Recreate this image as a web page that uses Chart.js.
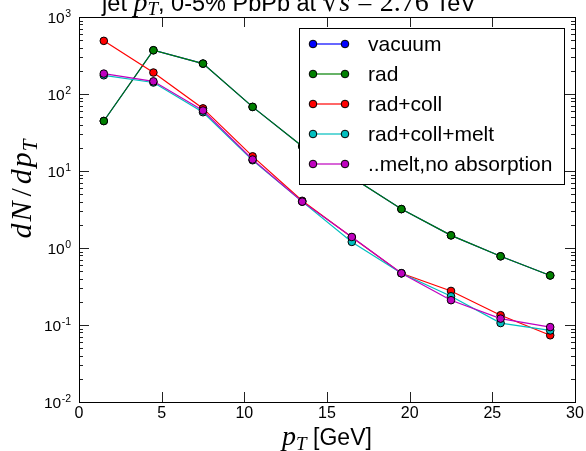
<!DOCTYPE html>
<html><head><meta charset="utf-8">
<script src="https://cdn.jsdelivr.net/npm/chart.js@4/dist/chart.umd.min.js"></script>
<style>html,body{margin:0;padding:0;background:#fff;overflow:hidden}</style>
</head><body>
<canvas id="c" width="586" height="451" style="display:block;width:586px;height:451px"></canvas>
<script>
// ---- data ----
const pT = [1.5, 4.5, 7.5, 10.5, 13.5, 16.5, 19.5, 22.5, 25.5, 28.5];
const vacuum = [44.6, 370, 248, 68, 21, 8.3, 3.2, 1.46, 0.78, 0.44];
const rad = [44.6, 370, 248, 68, 21, 8.3, 3.2, 1.46, 0.78, 0.44];
const radColl = [490, 190, 65, 15.5, 4.1, 1.38, 0.47, 0.277, 0.134, 0.0735];
const radCollMelt = [175, 141, 58, 13.8, 4.0, 1.2, 0.47, 0.236, 0.106, 0.085];
const meltNoAbs = [184, 146, 61, 14.1, 4.0, 1.39, 0.47, 0.21, 0.121, 0.094];
const seriesNames = ['vacuum', 'rad', 'rad+coll', 'rad+coll+melt', '..melt,no absorption'];
const seriesColors = ['#0000ff', '#008000', '#ff0000', '#00bfbf', '#bf00bf'];
const seriesValues = [vacuum, rad, radColl, radCollMelt, meltNoAbs];
const xTicks = [0, 5, 10, 15, 20, 25, 30];
const yDecades = [-2, -1, 0, 1, 2, 3];
const xRange = [0, 30];
const yRange = [0.01, 1000];

const SANS = 'Liberation Sans';
const SERIF = 'Liberation Serif';

function drawSegments(ctx, segs, x, y, align) {
  let total = 0;
  segs.forEach(s => { ctx.font = s.f; s.w = ctx.measureText(s.t).width + (s.gap || 0); total += s.w; });
  let cx = align === 'center' ? x - total / 2 : x;
  ctx.textBaseline = 'alphabetic';
  ctx.textAlign = 'left';
  segs.forEach(s => { ctx.font = s.f; ctx.fillText(s.t, cx, y + (s.dy || 0)); cx += s.w; });
}

const decorPlugin = {
  id: 'decor',
  afterDraw(chart) {
    const ctx = chart.ctx;
    const a = chart.chartArea;
    const xs = chart.scales.x, ys = chart.scales.y;
    ctx.save();
    // ticks (inside, all sides)
    ctx.strokeStyle = '#222';
    ctx.lineWidth = 1;
    ctx.beginPath();
    xTicks.forEach(v => {
      const px = Math.round(xs.getPixelForValue(v)) + 0.5;
      ctx.moveTo(px, a.bottom); ctx.lineTo(px, a.bottom - 10);
      ctx.moveTo(px, a.top); ctx.lineTo(px, a.top + 10);
    });
    yDecades.forEach(e => {
      const py = Math.round(ys.getPixelForValue(Math.pow(10, e))) + 0.5;
      ctx.moveTo(a.left, py); ctx.lineTo(a.left + 10, py);
      ctx.moveTo(a.right, py); ctx.lineTo(a.right - 10, py);
      if (e < yDecades[yDecades.length - 1]) {
        for (let m = 2; m <= 9; m++) {
          const pm = Math.round(ys.getPixelForValue(m * Math.pow(10, e))) + 0.5;
          ctx.moveTo(a.left, pm); ctx.lineTo(a.left + 4, pm);
          ctx.moveTo(a.right, pm); ctx.lineTo(a.right - 4, pm);
        }
      }
    });
    ctx.stroke();
    // frame
    ctx.strokeStyle = '#000';
    ctx.strokeRect(Math.round(a.left) + 0.5, Math.round(a.top) + 0.5, Math.round(a.right - a.left), Math.round(a.bottom - a.top));
    // y tick labels 10^e
    ctx.fillStyle = '#000';
    yDecades.forEach(e => {
      const py = ys.getPixelForValue(Math.pow(10, e));
      const ex = (e < 0 ? '-' : '') + Math.abs(e);
      ctx.font = '10.5px ' + SANS;
      const ew = ctx.measureText(ex).width;
      ctx.font = '15.5px ' + SANS;
      const bw = ctx.measureText('10').width;
      const right = a.left - 8;
      ctx.textAlign = 'left'; ctx.textBaseline = 'alphabetic';
      ctx.fillText('10', right - ew - bw - 0.5, py + 5.5);
      ctx.font = '10.5px ' + SANS;
      ctx.fillText(ex, right - ew, py - 0.5);
    });
    // title (cropped at top like reference)
    drawSegments(ctx, [
      { t: 'jet ', f: '23.5px ' + SANS },
      { t: 'p', f: 'italic 28px ' + SERIF },
      { t: 'T', f: 'italic 19px ' + SERIF, dy: 4 },
      { t: ', 0-5% PbPb at ', f: '23.5px ' + SANS },
      { t: '\u221A', f: '26px DejaVu Serif' },
      { t: 's', f: 'italic 28px ' + SERIF },
      { t: ' = 2.76', f: '28px ' + SERIF },
      { t: ' TeV', f: '23.5px ' + SANS }
    ], 289, 11, 'center');
    // x axis title
    drawSegments(ctx, [
      { t: 'p', f: 'italic 28px ' + SERIF },
      { t: 'T', f: 'italic 19px ' + SERIF, dy: 5 },
      { t: ' [GeV]', f: '23px ' + SANS }
    ], (a.left + a.right) / 2, 445, 'center');
    // y axis title
    ctx.save();
    ctx.translate(31, 189);
    ctx.rotate(-Math.PI / 2);
    drawSegments(ctx, [
      { t: 'd', f: 'italic 30px ' + SERIF, gap: 2 },
      { t: 'N', f: 'italic 30px ' + SERIF, gap: 5 },
      { t: '/', f: '30px ' + SERIF, gap: 4 },
      { t: 'd', f: 'italic 30px ' + SERIF, gap: 2 },
      { t: 'p', f: 'italic 30px ' + SERIF, gap: 1 },
      { t: 'T', f: 'italic 21px ' + SERIF, dy: 6 }
    ], 0, 0, 'center');
    ctx.restore();
    // legend box
    const lx = 299, ly = 28, lw = 265, lh = 156;
    ctx.fillStyle = '#fff';
    ctx.fillRect(lx, ly, lw, lh);
    ctx.strokeStyle = '#000';
    ctx.strokeRect(lx + 0.5, ly + 0.5, lw, lh);
    chart.data.datasets.forEach((ds, i) => {
      const cy = ly + 16 + i * 30;
      ctx.strokeStyle = ds.borderColor;
      ctx.lineWidth = 1.2;
      ctx.beginPath(); ctx.moveTo(lx + 14, cy); ctx.lineTo(lx + 46, cy); ctx.stroke();
      [lx + 14, lx + 46].forEach(px => {
        ctx.beginPath(); ctx.arc(px, cy, 3.8, 0, Math.PI * 2);
        ctx.fillStyle = ds.backgroundColor; ctx.fill();
        ctx.lineWidth = 1; ctx.strokeStyle = '#000'; ctx.stroke();
      });
      ctx.fillStyle = '#000';
      ctx.font = '21px ' + SANS;
      ctx.textAlign = 'left'; ctx.textBaseline = 'middle';
      ctx.fillText(ds.label, lx + 69, cy + 1);
    });
    ctx.restore();
  }
};

const datasets = seriesNames.map((name, i) => ({
  label: name,
  data: pT.map((x, j) => ({ x: x, y: seriesValues[i][j] })),
  borderColor: seriesColors[i],
  backgroundColor: seriesColors[i],
  pointBackgroundColor: seriesColors[i],
  pointBorderColor: '#000',
  pointBorderWidth: 1,
  pointRadius: 3.8,
  borderWidth: 1.2,
  tension: 0,
  order: seriesNames.length - i
}));

new Chart(document.getElementById('c'), {
  type: 'line',
  data: { datasets },
  options: {
    responsive: false,
    animation: false,
    devicePixelRatio: 1,
    layout: { padding: { left: 0, top: 17, right: 11, bottom: 0 } },
    plugins: { legend: { display: false }, tooltip: { enabled: false }, title: { display: false } },
    scales: {
      x: {
        type: 'linear', min: xRange[0], max: xRange[1],
        afterBuildTicks: s => { s.ticks = xTicks.map(v => ({ value: v })); },
        grid: { display: false, drawTicks: false },
        border: { display: false },
        ticks: { font: { family: SANS, size: 16 }, color: '#000', padding: 2, maxRotation: 0, autoSkip: false },
        afterFit: s => { s.height = 49; }
      },
      y: {
        type: 'logarithmic', min: yRange[0], max: yRange[1],
        grid: { display: false, drawTicks: false },
        border: { display: false },
        ticks: { display: false },
        afterFit: s => { s.width = 79; }
      }
    }
  },
  plugins: [decorPlugin]
});
</script>
</body></html>
